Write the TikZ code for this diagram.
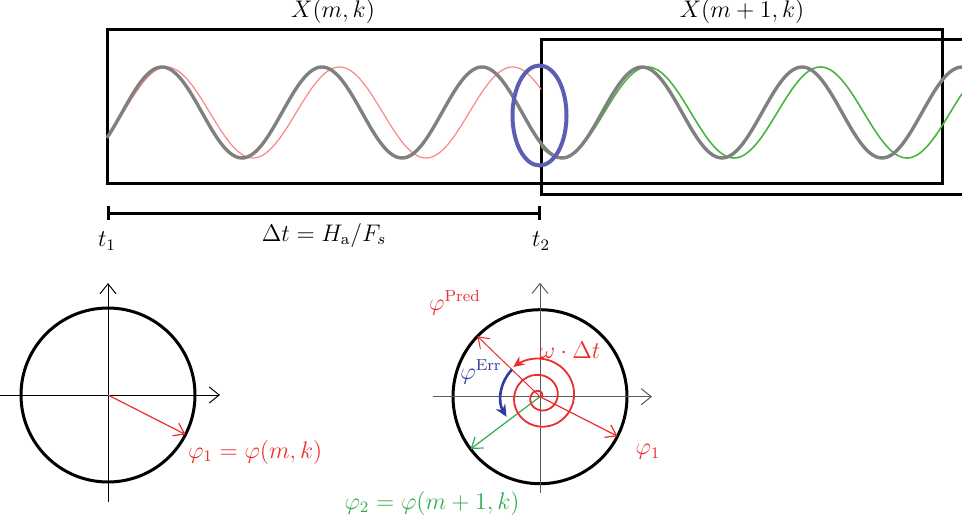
\documentclass[tikz,border=0pt]{standalone}
\usepackage{amsmath}
\usetikzlibrary{arrows.meta,calc}
\definecolor{wavegray}{RGB}{128,128,128}
\definecolor{wavered}{RGB}{250,135,135}
\definecolor{wavegreen}{RGB}{75,180,65}
\definecolor{ringblue}{RGB}{90,95,180}
\definecolor{labred}{RGB}{235,45,45}
\definecolor{labgreen}{RGB}{50,170,80}
\definecolor{labblue}{RGB}{45,60,160}
\definecolor{axisgray}{RGB}{90,90,90}
\begin{document}
\begin{tikzpicture}[x=0.5pt, y=0.5pt, font=\large,
  frame/.style={line width=1.5pt},
  axis/.style={line width=0.5pt, -{Straight Barb[length=5pt,width=8pt]}},
  vec/.style={line width=0.6pt, -{Straight Barb[length=5pt,width=7pt]}},
  turn/.style={line width=0.9pt, -{Stealth[length=5.5pt,width=5pt]}}]
\useasboundingbox (0,0) rectangle (962,-518);
% frames m and m+1
\draw[frame] (107,-30) rectangle (942,-184);
\draw[frame] (962,-40) -- (541,-40) -- (541,-195) -- (962,-195);
\node (X_0) at (333,-12) {$X(m,k)$};
\node (X_1) at (742,-12) {$X(m+1,k)$};
% signals
\draw[wavered, line width=0.6pt] plot[domain=107:541, samples=200]
  (\x,{-112.5+45.5*cos((\x-166.5)/173*360)});
\draw[wavegreen, line width=0.8pt] plot[domain=541:962, samples=200]
  (\x,{-112.5+45.5*cos((\x-647.5)/173*360)});
\draw[wavegray, line width=1.7pt] plot[domain=107:962, samples=300]
  (\x,{-112.5+45.5*cos((\x-162)/160*360)});
\draw[ringblue, line width=2pt] (539.5,-115.5) ellipse[x radius=27, y radius=50];
% hop
\coordinate (T_1) at (107,-213);
\coordinate (T_2) at (541,-213);
\draw[frame, {Bar[width=6.5pt]}-{Bar[width=6.5pt]}] (T_1) -- (T_2)
  node[midway, below=1pt] {$\Delta t = H_\mathrm{a}/F_s$};
\node (t_1) at (107,-241) {$t_1$};
\node (t_2) at (541,-241) {$t_2$};
% phase at t_1
\coordinate (C_0) at (108,-395);
\draw[frame] (C_0) circle[radius=87];
\draw[axis] ($(C_0)+(-108,0)$) -- ($(C_0)+(112,0)$);
\draw[axis] ($(C_0)+(0,-107)$) -- ($(C_0)+(0,112)$);
\coordinate (P_0_1) at ($(C_0)+(-27:87)$);
\draw[vec, labred] (C_0) -- (P_0_1);
\node[labred, anchor=west] (L_0_1) at (181,-452) {$\varphi_1 = \varphi(m,k)$};
% phase at t_2
\coordinate (C_1) at (540,-396.7);
\draw[frame] (C_1) circle[radius=87];
\draw[axis, axisgray] ($(C_1)+(-107,0)$) -- ($(C_1)+(112,0)$);
\draw[axis, axisgray] ($(C_1)+(0,-96)$) -- ($(C_1)+(0,114)$);
\coordinate (P_1_1) at ($(C_1)+(-27:87)$);
\coordinate (P_1_2) at ($(C_1)+(217:87)$);
\coordinate (P_1_3) at ($(C_1)+(136:87)$);
\draw[vec, labred] (C_1) -- (P_1_1);
\draw[vec, labgreen] (C_1) -- (P_1_2);
\draw[vec, labred, line width=0.5pt] (C_1) -- (P_1_3);
\draw[turn, labred, shift={(C_1)}] plot[domain=0:879, samples=180]
  ({\x-27}:{\x/879*40});
\draw[labblue, line width=1.3pt, -{Stealth[length=6pt,width=5.5pt]}]
  ($(C_1)+(136:39)$) arc[start angle=136, end angle=211, radius=39];
\node[labred] (L_1_1) at (648,-452) {$\varphi_1$};
\node[labred] (L_1_3) at (455,-303) {$\varphi^{\mathrm{Pred}}$};
\node[labred] (L_1_4) at (570,-350) {$\omega\cdot\Delta t$};
\node[labblue] (L_1_5) at (481,-372) {$\varphi^{\mathrm{Err}}$};
\node[labgreen] (L_1_2) at (432,-503) {$\varphi_2 = \varphi(m+1,k)$};
\end{tikzpicture}
\end{document}
